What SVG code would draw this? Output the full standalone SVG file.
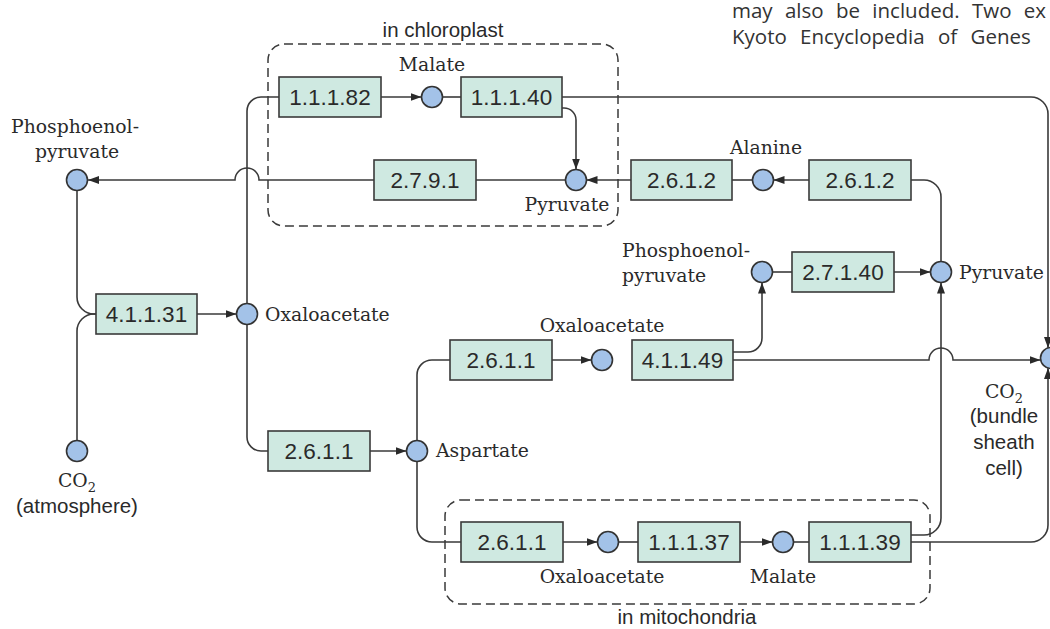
<svg xmlns="http://www.w3.org/2000/svg" width="1050" height="629" viewBox="0 0 1050 629">
<defs>
<style>
.box{fill:#cfe9e1;stroke:#3a3a3a;stroke-width:1.6}
.met{fill:#a3c2e8;stroke:#333;stroke-width:1.6}
.ec{font-family:"Liberation Sans",Arial,sans-serif;font-size:22.5px;fill:#2a2a2a;text-anchor:middle}
.lbl{font-family:"DejaVu Serif","Liberation Serif",serif;font-size:18.8px;fill:#2a2a2a}
.sans{font-family:"Liberation Sans",Arial,sans-serif;font-size:20.5px;fill:#2a2a2a}
.book{font-family:"Open Sans","Liberation Sans",sans-serif;font-size:20.5px;fill:#333}
.con path{fill:none;stroke:#3a3a3a;stroke-width:1.6}
.cmp{fill:none;stroke:#3a3a3a;stroke-width:1.5;stroke-dasharray:9 5}
.mid{text-anchor:middle}
</style>
<marker id="ah" viewBox="0 0 11 8" refX="11" refY="4" markerWidth="11" markerHeight="8" markerUnits="userSpaceOnUse" orient="auto">
<path d="M0,0 L11,4 L0,8 z" fill="#2a2a2a"/>
</marker>
</defs>
<rect width="1050" height="629" fill="#fff"/>

<g id="book-text">
<text class="book" x="732" y="18" word-spacing="7">may also be included. Two ex</text>
<text class="book" x="732" y="44" word-spacing="8">Kyoto Encyclopedia of Genes</text>
</g>

<g id="compartments">
<g id="chloroplast">
<rect class="cmp" x="268" y="44" width="350" height="182" rx="16"/>
<text class="sans mid" x="443" y="37">in chloroplast</text>
</g>
<g id="mitochondria">
<rect class="cmp" x="445" y="500" width="485" height="104" rx="16"/>
<text class="sans mid" x="687" y="624">in mitochondria</text>
</g>
</g>

<g id="connectors" class="con">
<path d="M197,314 H236.5" marker-end="url(#ah)"/>
<path d="M77,190.5 V297 A17,17 0 0 0 94,314 H96"/>
<path d="M77,440.5 V331 A17,17 0 0 1 94,314 H96"/>
<path d="M374,180 H259 A12,12 0 0 0 235,180 H88" marker-end="url(#ah)"/>
<path d="M247,303.5 V111 A14,14 0 0 1 261,97 H279"/>
<path d="M247,324.5 V437 A14,14 0 0 0 261,451 H268"/>
<path d="M381,97 H421.5" marker-end="url(#ah)"/>
<path d="M442.5,97 H461"/>
<path d="M562,108 H564 A12,12 0 0 1 576,120 V169.5" marker-end="url(#ah)"/>
<path d="M562,97 H1031 A17,17 0 0 1 1048,114 V348" marker-end="url(#ah)"/>
<path d="M565.5,180 H476"/>
<path d="M631,180 H586.5" marker-end="url(#ah)"/>
<path d="M752.5,180 H732"/>
<path d="M809,180 H773.5" marker-end="url(#ah)"/>
<path d="M941,261.5 V197 A17,17 0 0 0 924,180 H911"/>
<path d="M772.5,272 H792"/>
<path d="M894,272 H930.5" marker-end="url(#ah)"/>
<path d="M733,352 H748 A14,14 0 0 0 762,338 V282.5" marker-end="url(#ah)"/>
<path d="M733,360 H929 A12,12 0 0 1 953,360 H1040.5" marker-end="url(#ah)"/>
<path d="M911,535 H924 A17,17 0 0 0 941,518 V282.5" marker-end="url(#ah)"/>
<path d="M911,542 H1031 A17,17 0 0 0 1048,525 V368" marker-end="url(#ah)"/>
<path d="M370,451 H406.5" marker-end="url(#ah)"/>
<path d="M417,440.5 V375 A15,15 0 0 1 432,360 H450"/>
<path d="M417,461.5 V527 A15,15 0 0 0 432,542 H461"/>
<path d="M552,360 H591.5" marker-end="url(#ah)"/>
<path d="M563,542 H597.5" marker-end="url(#ah)"/>
<path d="M618.5,542 H638"/>
<path d="M740,542 H772.5" marker-end="url(#ah)"/>
<path d="M793.5,542 H809"/>
</g>

<g id="pep-left">
<circle class="met" cx="77" cy="180" r="10.5"/>
<text class="lbl mid" x="75" y="133">Phosphoenol-</text>
<text class="lbl mid" x="77" y="158">pyruvate</text>
</g>
<g id="co2-atm">
<circle class="met" cx="77" cy="451" r="10.5"/>
<text class="lbl mid" x="77" y="487">CO<tspan font-size="13" dy="5">2</tspan></text>
<text class="sans mid" x="77" y="513">(atmosphere)</text>
</g>
<g id="e-4.1.1.31"><rect class="box" x="96" y="294" width="101" height="40"/><text class="ec" x="146.5" y="322">4.1.1.31</text></g>
<g id="oaa-left">
<circle class="met" cx="247" cy="314" r="10.5"/>
<text class="lbl" x="265" y="321">Oxaloacetate</text>
</g>
<g id="e-1.1.1.82"><rect class="box" x="279" y="77" width="102" height="40"/><text class="ec" x="330" y="105">1.1.1.82</text></g>
<g id="malate-chl">
<circle class="met" cx="432" cy="97" r="10.5"/>
<text class="lbl mid" x="432" y="71">Malate</text>
</g>
<g id="e-1.1.1.40"><rect class="box" x="461" y="77" width="101" height="40"/><text class="ec" x="511.5" y="105">1.1.1.40</text></g>
<g id="e-2.7.9.1"><rect class="box" x="374" y="160" width="102" height="40"/><text class="ec" x="425" y="188">2.7.9.1</text></g>
<g id="pyruvate-chl">
<circle class="met" cx="576" cy="180" r="10.5"/>
<text class="lbl mid" x="567" y="211">Pyruvate</text>
</g>
<g id="e-2.6.1.2-a"><rect class="box" x="631" y="160" width="101" height="40"/><text class="ec" x="681.5" y="188">2.6.1.2</text></g>
<g id="alanine">
<circle class="met" cx="763" cy="180" r="10.5"/>
<text class="lbl mid" x="766" y="154">Alanine</text>
</g>
<g id="e-2.6.1.2-b"><rect class="box" x="809" y="160" width="102" height="40"/><text class="ec" x="860" y="188">2.6.1.2</text></g>
<g id="pep-mid">
<circle class="met" cx="762" cy="272" r="10.5"/>
<text class="lbl" x="622" y="257">Phosphoenol-</text>
<text class="lbl" x="622" y="282">pyruvate</text>
</g>
<g id="e-2.7.1.40"><rect class="box" x="792" y="252" width="102" height="40"/><text class="ec" x="843" y="280">2.7.1.40</text></g>
<g id="pyruvate-bs">
<circle class="met" cx="941" cy="272" r="10.5"/>
<text class="lbl" x="959" y="279">Pyruvate</text>
</g>
<g id="e-2.6.1.1-a"><rect class="box" x="450" y="340" width="102" height="40"/><text class="ec" x="501" y="368">2.6.1.1</text></g>
<g id="oaa-mid">
<circle class="met" cx="602" cy="360" r="10.5"/>
<text class="lbl mid" x="602" y="332">Oxaloacetate</text>
</g>
<g id="e-4.1.1.49"><rect class="box" x="632" y="340" width="101" height="40"/><text class="ec" x="682.5" y="368">4.1.1.49</text></g>
<g id="co2-bs">
<circle class="met" cx="1051" cy="358" r="10.5"/>
<text class="lbl mid" x="1004" y="398">CO<tspan font-size="13" dy="5">2</tspan></text>
<text class="sans mid" x="1004" y="423">(bundle</text>
<text class="sans mid" x="1004" y="449">sheath</text>
<text class="sans mid" x="1004" y="475">cell)</text>
</g>
<g id="e-2.6.1.1-b"><rect class="box" x="268" y="431" width="102" height="40"/><text class="ec" x="319" y="459">2.6.1.1</text></g>
<g id="aspartate">
<circle class="met" cx="417" cy="451" r="10.5"/>
<text class="lbl" x="436" y="457">Aspartate</text>
</g>
<g id="e-2.6.1.1-c"><rect class="box" x="461" y="522" width="102" height="40"/><text class="ec" x="512" y="550">2.6.1.1</text></g>
<g id="oaa-mito">
<circle class="met" cx="608" cy="542" r="10.5"/>
<text class="lbl mid" x="602" y="583">Oxaloacetate</text>
</g>
<g id="e-1.1.1.37"><rect class="box" x="638" y="522" width="102" height="40"/><text class="ec" x="689" y="550">1.1.1.37</text></g>
<g id="malate-mito">
<circle class="met" cx="783" cy="542" r="10.5"/>
<text class="lbl mid" x="783" y="583">Malate</text>
</g>
<g id="e-1.1.1.39"><rect class="box" x="809" y="522" width="102" height="40"/><text class="ec" x="860" y="550">1.1.1.39</text></g>
</svg>
